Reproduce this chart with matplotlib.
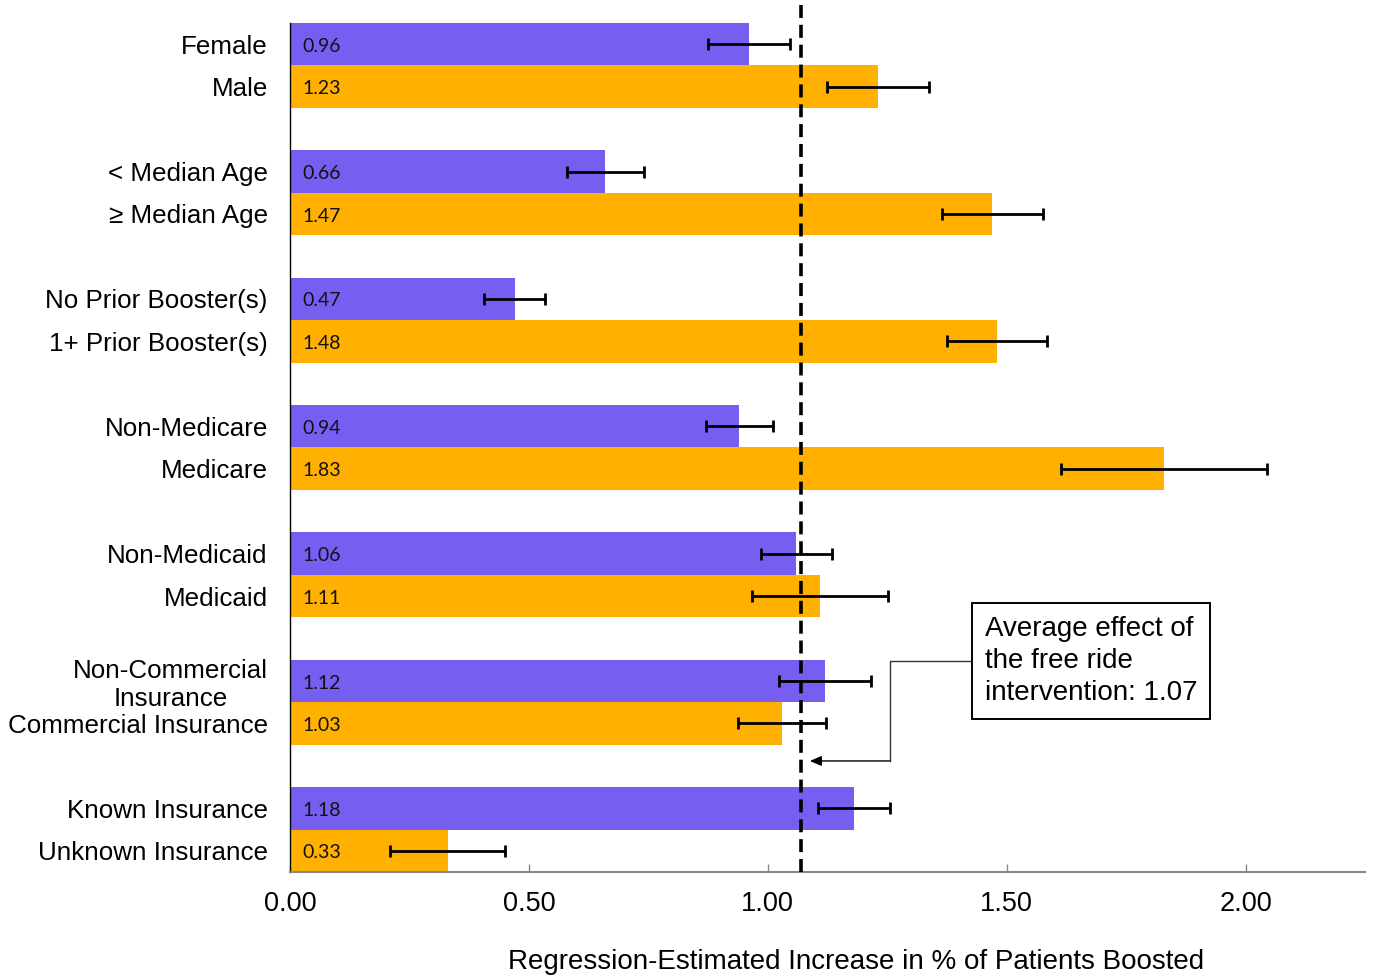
import numpy as np
import matplotlib
matplotlib.use("Agg")
import matplotlib.pyplot as plt

# subgroup pairs, top to bottom
labels = ["Female", "Male",
          "< Median Age", "\u2265 Median Age",
          "No Prior Booster(s)", "1+ Prior Booster(s)",
          "Non-Medicare", "Medicare",
          "Non-Medicaid", "Medicaid",
          "Non-Commercial\nInsurance", "Commercial Insurance",
          "Known Insurance", "Unknown Insurance"]
values = [0.96, 1.23, 0.66, 1.47, 0.47, 1.48, 0.94, 1.83,
          1.06, 1.11, 1.12, 1.03, 1.18, 0.33]
# half width of the error bars
errors = [0.086, 0.107, 0.080, 0.106, 0.064, 0.104, 0.070, 0.216,
          0.075, 0.142, 0.097, 0.092, 0.075, 0.120]
avg_effect = 1.07

PURPLE = "#785EF0"
ORANGE = "#FFB000"

plt.rcParams["font.family"] = ["Liberation Sans", "DejaVu Sans"]

fig = plt.figure(figsize=(13.75, 9.77), dpi=100)
ax = fig.add_axes([0.2109, 0.1075, 0.7818, 0.869])

# two bars per group, one empty slot between groups
ypos = np.array([3 * (i // 2) + (i % 2) for i in range(len(values))])
colors = [PURPLE if i % 2 == 0 else ORANGE for i in range(len(values))]

ax.barh(ypos, values, height=1.0, color=colors, zorder=2)
ax.errorbar(values, ypos, xerr=errors, fmt="none", ecolor="black",
            elinewidth=2.0, capsize=4, capthick=2.0, zorder=4)

for y, v in zip(ypos, values):
    ax.annotate(f"{v:.2f}", xy=(0, y), xytext=(9, -1.5), textcoords="offset points",
                ha="left", va="center", fontsize=14, family=["Lato", "DejaVu Sans"],
                color="#111111", zorder=5)

# average effect line
ax.axvline(avg_effect, ymin=0, ymax=1.021, color="black", lw=2.6,
           ls=(0, (3.6, 1.9)), clip_on=False, zorder=3)

ax.set_xlim(0, 2.25)
ax.set_ylim(ypos[-1] + 0.5, -0.5)
ax.set_yticks(ypos)
ax.set_yticklabels(labels, fontsize=18.7)
for t in ax.get_yticklabels():
    t.set_multialignment("center")
ax.tick_params(axis="y", length=0, pad=16)

ax.set_xticks([0, 0.5, 1.0, 1.5, 2.0])
ax.set_xticklabels([f"{x:.2f}" for x in [0, 0.5, 1.0, 1.5, 2.0]], fontsize=19.5)
ax.tick_params(axis="x", direction="in", length=6, width=1, color="#888888", pad=14)

ax.set_xlabel("Regression-Estimated Increase in % of Patients Boosted", fontsize=20)
ax.xaxis.set_label_coords(0.5265, -0.091)

for s in ["top", "right"]:
    ax.spines[s].set_visible(False)
ax.spines["bottom"].set_color("#888888")
ax.spines["bottom"].set_linewidth(1.5)
ax.spines["left"].set_color("black")
ax.spines["left"].set_linewidth(1.0)

# callout box with elbow arrow pointing at the dashed line
box_y = 14.53
ax.text(1.454, box_y, "Average effect of\nthe free ride\nintervention: 1.07",
        fontsize=20, ha="left", va="center", linespacing=1.28, zorder=6,
        bbox=dict(boxstyle="square,pad=0.47", fc="white", ec="black", lw=1.4))
ax.plot([1.4247, 1.2552, 1.2552], [box_y, box_y, 16.885], color="#333333",
        lw=1.0, zorder=5)
ax.annotate("", xy=(1.088, 16.885), xytext=(1.2552, 16.885),
            arrowprops=dict(arrowstyle="-|>,head_length=0.7,head_width=0.3",
                            color="black", lw=1.0, shrinkA=0, shrinkB=0), zorder=5)

fig.savefig("out.png", dpi=100)
